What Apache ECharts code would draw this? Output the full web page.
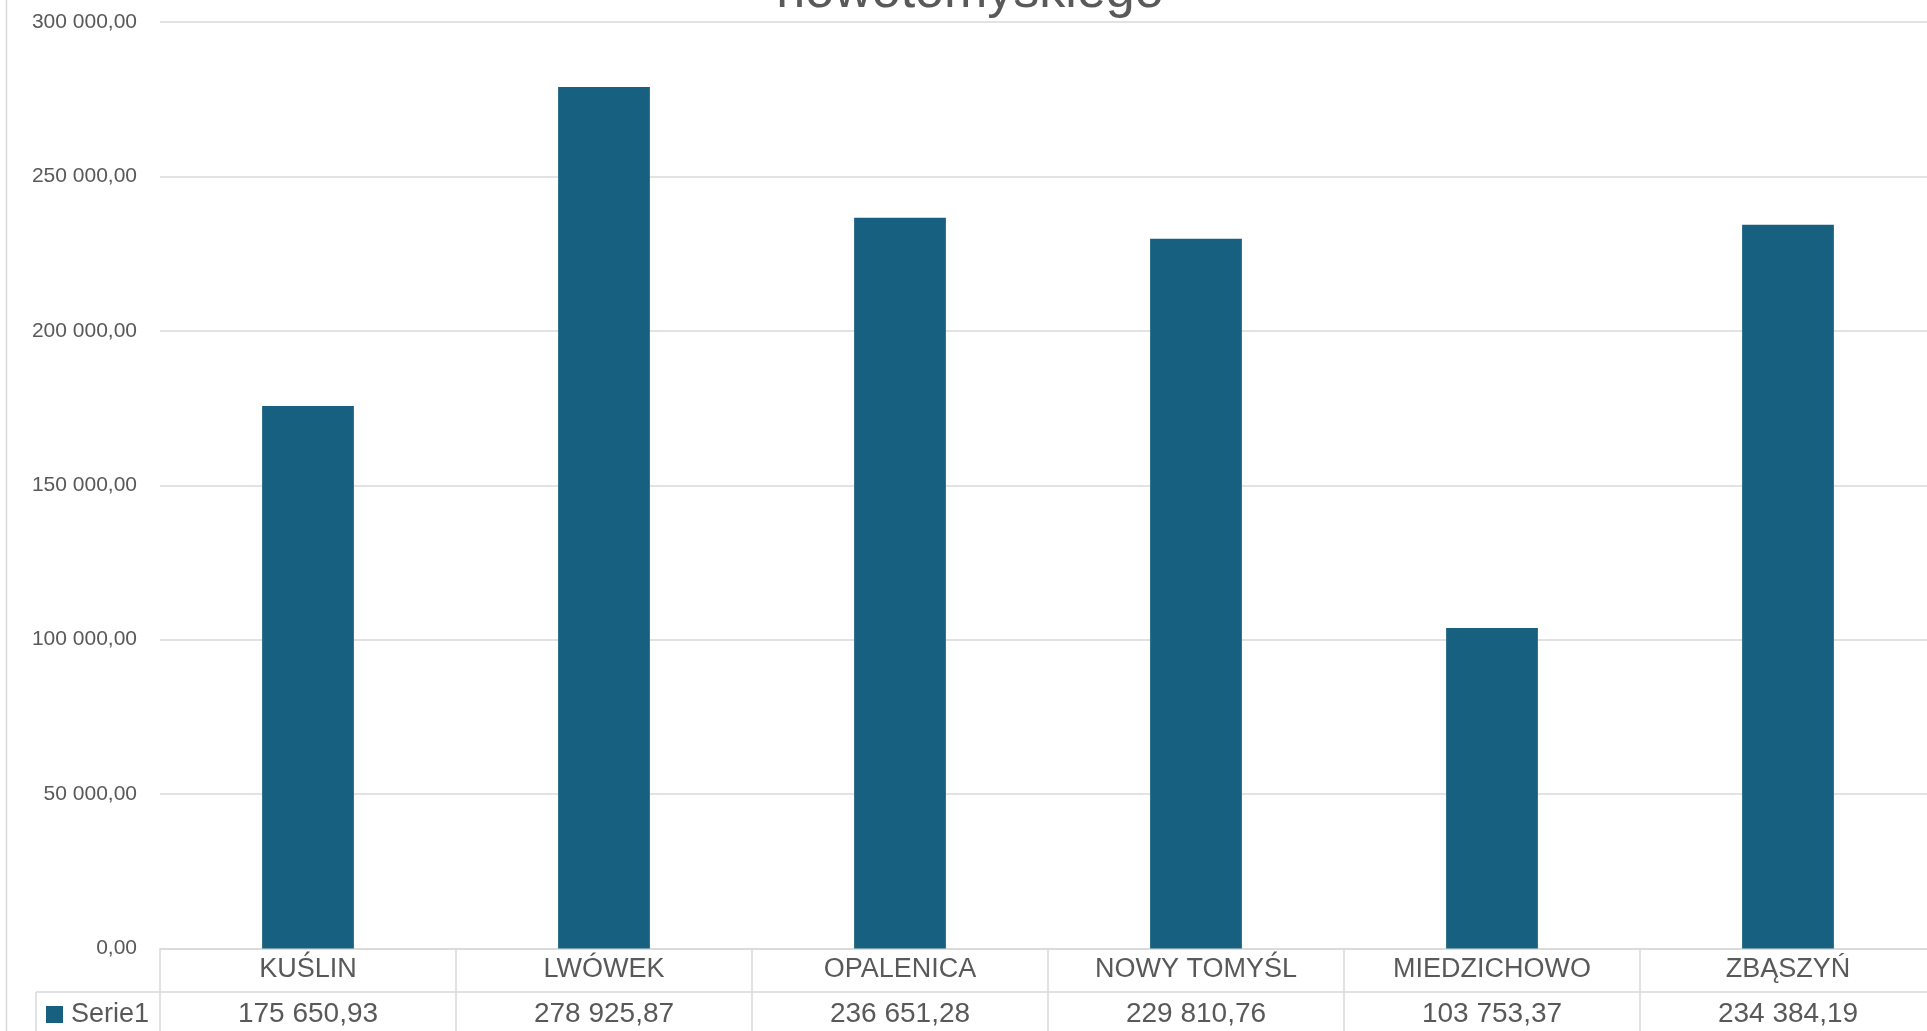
<!DOCTYPE html>
<html>
<head>
<meta charset="utf-8">
<script src="https://cdn.jsdelivr.net/npm/echarts@6/dist/echarts.min.js"></script>
<style>
html,body{margin:0;padding:0;background:#fff;}
#chart{width:1927px;height:1031px;}
</style>
</head>
<body>
<div id="chart"></div>
<script>
const categories = ['KUŚLIN', 'LWÓWEK', 'OPALENICA', 'NOWY TOMYŚL', 'MIEDZICHOWO', 'ZBĄSZYŃ'];
const seriesName = 'Serie1';
const values = [175650.93, 278925.87, 236651.28, 229810.76, 103753.37, 234384.19];
const titleText = 'nowotomyskiego';
const yTicks = { min: 0, max: 300000, interval: 50000 };

function fmt(v) {
  const parts = Number(v).toFixed(2).split('.');
  return parts[0].replace(/\B(?=(\d{3})+(?!\d))/g, ' ') + ',' + parts[1];
}

const FONT = '"Liberation Sans", Arial, sans-serif';
const TXT = '#595959';
const LINE = '#D9D9D9';

const chart = echarts.init(document.getElementById('chart'));
chart.setOption({
  animation: false,
  backgroundColor: '#fff',
  textStyle: { fontFamily: FONT },
  grid: { left: 160, width: 1776, top: 22, bottom: 82.5, containLabel: false, outerBoundsMode: 'none' },
  legend: {
    data: [seriesName],
    left: 46, top: 1001, padding: 0,
    icon: 'rect', itemWidth: 17, itemHeight: 17, itemGap: 0,
    textStyle: { fontSize: 27, color: TXT, fontFamily: FONT, padding: [0, 0, 0, 3] }
  },
  xAxis: {
    type: 'category',
    data: categories,
    boundaryGap: true,
    axisLine: { show: true, lineStyle: { color: LINE, width: 1.5 } },
    axisTick: { show: true, length: 90, lineStyle: { color: LINE, width: 1.5 } },
    axisLabel: {
      margin: 0,
      interval: 0,
      formatter: function (v, i) { return '{a|' + v + '}\n{b|' + fmt(values[i]) + '}'; },
      rich: {
        a: { fontSize: 27, lineHeight: 42, color: TXT, fontFamily: FONT },
        b: { fontSize: 28, lineHeight: 47, color: TXT, fontFamily: FONT }
      }
    }
  },
  yAxis: {
    type: 'value',
    min: yTicks.min, max: yTicks.max, interval: yTicks.interval,
    axisLine: { show: false },
    axisTick: { show: false },
    axisLabel: { fontSize: 21, color: TXT, margin: 23, fontFamily: FONT, formatter: fmt },
    splitLine: { lineStyle: { color: LINE, width: 1.5 } }
  },
  series: [{
    name: seriesName,
    type: 'bar',
    data: values,
    barWidth: '31%',
    itemStyle: { color: '#17607F' }
  }],
  graphic: [
    { type: 'line', shape: { x1: 6.5, y1: 0, x2: 6.5, y2: 1031 }, style: { stroke: LINE, lineWidth: 1.5 } },
    { type: 'line', shape: { x1: 36, y1: 992, x2: 1927, y2: 992 }, style: { stroke: LINE, lineWidth: 1.5 } },
    { type: 'line', shape: { x1: 36, y1: 992, x2: 36, y2: 1031 }, style: { stroke: LINE, lineWidth: 1.5 } },
    { type: 'text', x: 970, y: -7, style: { text: titleText, fontSize: 52, fill: TXT, fontFamily: FONT, textAlign: 'center', textVerticalAlign: 'middle' } }
  ]
});
</script>
</body>
</html>
